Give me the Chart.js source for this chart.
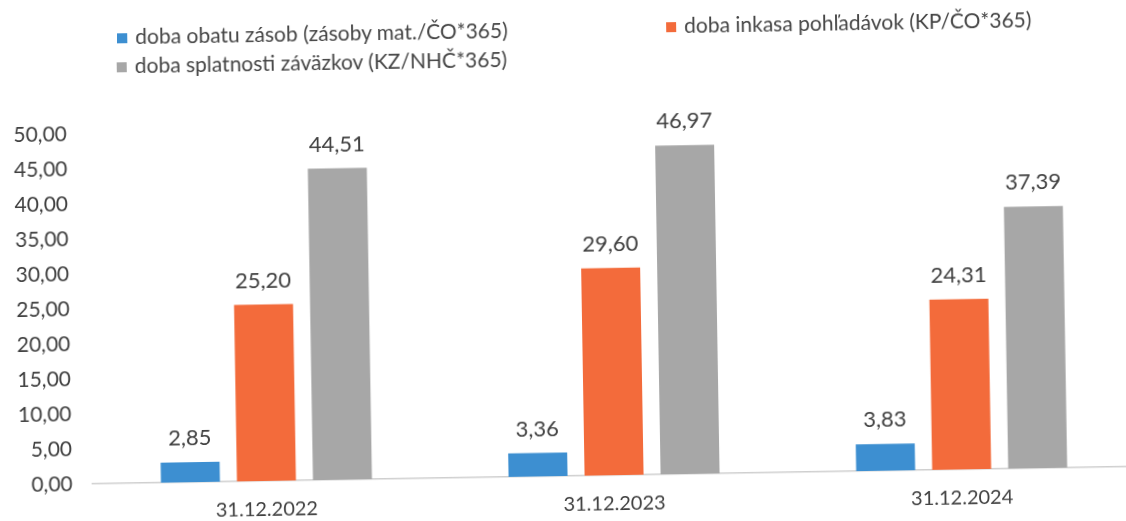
<!DOCTYPE html>
<html>
<head>
<meta charset="utf-8">
<script src="https://cdn.jsdelivr.net/npm/chart.js@4"></script>
<style>
	html, body { margin: 0; padding: 0; background: #fff; overflow: hidden; width: 1126px; height: 521px; }
	#wrap { position: absolute; left: 0; top: 0; width: 1140px; height: 521px; transform: rotate(-0.95deg); transform-origin: 563px 260px; }
	#c { position: absolute; left: 0; top: 0; }
	.leg { position: absolute; font-family: Lato, sans-serif; font-size: 21px; color: #454545; white-space: nowrap; line-height: 24px; }
	.leg i { display: inline-block; width: 10px; height: 10px; margin-right: 8px; vertical-align: 1px; }
</style>
</head>
<body>
<div id="wrap">
	<canvas id="c" width="1140" height="521"></canvas>
	<div class="leg" id="leg0" style="left:121px; top:17px;"></div>
	<div class="leg" id="leg1" style="left:670px; top:15px;"></div>
	<div class="leg" id="leg2" style="left:120px; top:46px;"></div>
</div>
<script>
// data
const categories = ['31.12.2022', '31.12.2023', '31.12.2024']
const series_names = [
	'doba obatu zásob (zásoby mat./ČO*365)',
	'doba inkasa pohľadávok (KP/ČO*365)',
	'doba splatnosti záväzkov (KZ/NHČ*365)'
]
const obrat_zasob = [2.85, 3.36, 3.83]
const inkaso_pohladavok = [25.20, 29.60, 24.31]
const splatnost_zavazkov = [44.51, 46.97, 37.39]
const y_min = 0
const y_max = 50
const y_step = 5

const colors = ['#3d8fd1', '#f36b3b', '#a7a7a7']
const txt = '#404040'

function fmt(v) {
	return v.toFixed(2).replace('.', ',')
}

// legend (html)
series_names.forEach((n, i) => {
	document.getElementById('leg' + i).innerHTML = '<i style="background:' + colors[i] + '"></i>' + n
})

// hodnoty nad stlpcami
const valueLabels = {
	id: 'valueLabels',
	afterDatasetsDraw(chart) {
		const ctx = chart.ctx
		ctx.save()
		ctx.font = '22px Lato, sans-serif'
		ctx.fillStyle = txt
		ctx.textAlign = 'center'
		ctx.textBaseline = 'middle'
		chart.data.datasets.forEach((ds, i) => {
			chart.getDatasetMeta(i).data.forEach((bar, j) => {
				ctx.fillText(fmt(ds.data[j]), bar.x, bar.y - 24)
			})
		})
		ctx.restore()
	}
}

const ctx = document.getElementById('c').getContext('2d')
const chart = new Chart(ctx, {
	type: 'bar',
	data: {
		labels: categories,
		datasets: [
			{ label: series_names[0], data: obrat_zasob, backgroundColor: colors[0] },
			{ label: series_names[1], data: inkaso_pohladavok, backgroundColor: colors[1] },
			{ label: series_names[2], data: splatnost_zavazkov, backgroundColor: colors[2] }
		]
	},
	options: {
		responsive: false,
		animation: false,
		devicePixelRatio: 1,
		categoryPercentage: 0.656,
		barPercentage: 0.776,
		layout: { padding: { top: 126, right: 8, left: 0, bottom: 0 } },
		plugins: {
			legend: { display: false },
			tooltip: { enabled: false }
		},
		scales: {
			x: {
				grid: { display: false, drawTicks: false },
				border: { color: '#cfcfcf', width: 1.5 },
				ticks: { color: txt, font: { family: 'Lato', size: 20 }, padding: 17 },
				afterFit: s => { s.height = 45 }
			},
			y: {
				min: y_min,
				max: y_max,
				grid: { display: false, drawTicks: false },
				border: { display: false },
				ticks: {
					stepSize: y_step,
					color: txt,
					font: { family: 'Lato', size: 21 },
					padding: 20,
					callback: v => fmt(v)
				},
				afterFit: s => { s.width = 89 }
			}
		}
	},
	plugins: [valueLabels]
})
</script>
</body>
</html>
